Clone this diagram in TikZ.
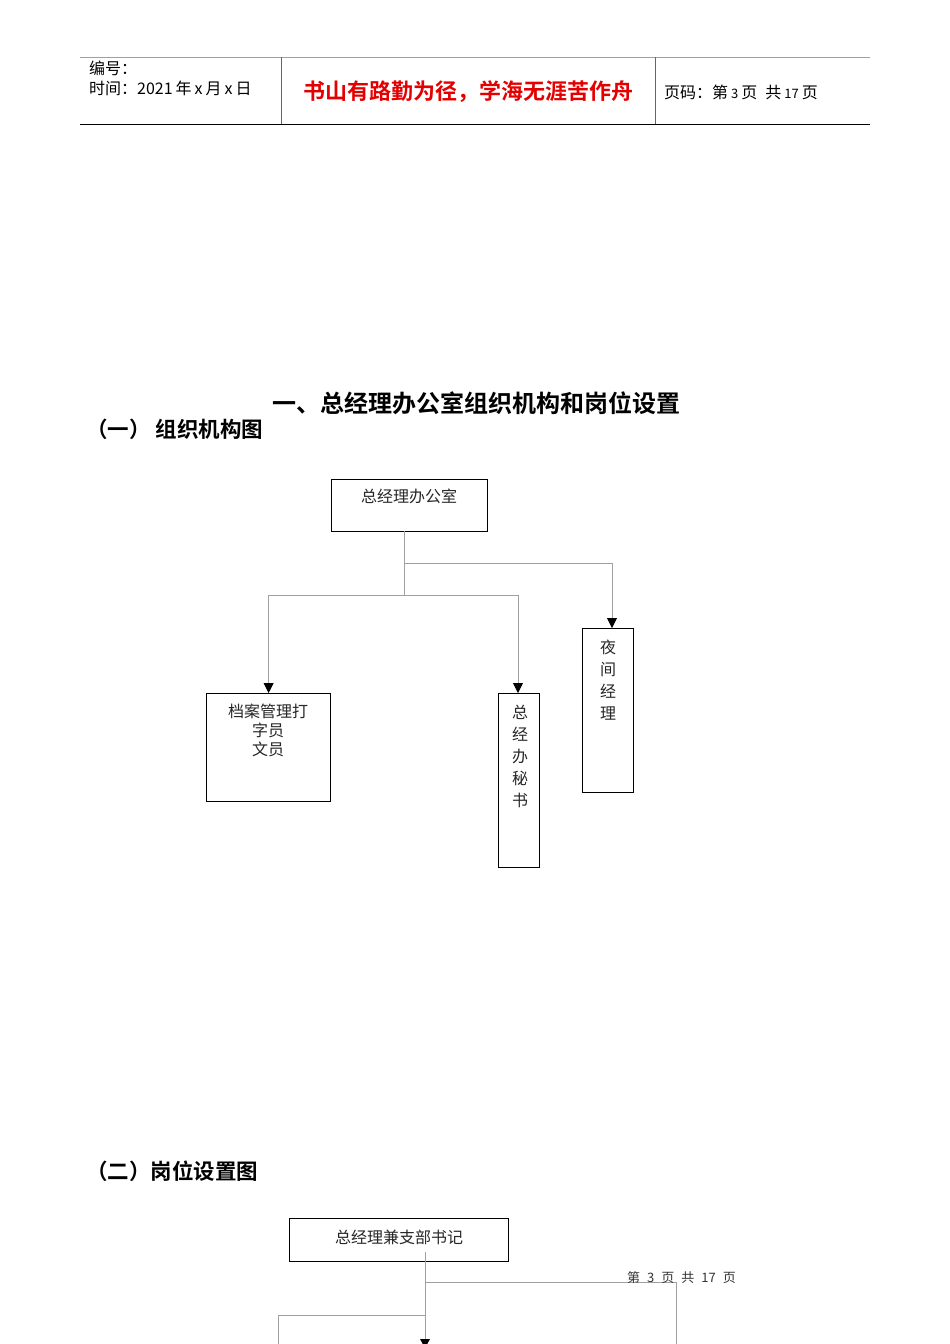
\documentclass[tikz,border=0pt]{standalone}
\usepackage{fontspec}
\setmainfont{Liberation Sans}
\newfontfamily\cjk[BoldFont={Noto Sans CJK SC Bold}]{Noto Sans CJK SC}
\usetikzlibrary{arrows.meta}
\definecolor{redtxt}{RGB}{228,0,0}
\definecolor{linegray}{RGB}{160,160,160}
\tikzset{
  box/.style={draw=black, line width=1.2pt, rectangle, anchor=north west, inner sep=0pt},
  boxtext/.style={font=\cjk\fontsize{16}{22}\selectfont, align=center, inner sep=0pt, text=black!85},
  conn/.style={draw=linegray, line width=0.8pt},
  arr/.style={-{Triangle[width=10pt,length=10pt,color=black]}},
  hdr/.style={font=\cjk\fontsize{16}{18}\selectfont, inner sep=0pt, anchor=west},
  heading/.style={font=\cjk\bfseries\fontsize{22}{26}\selectfont, inner sep=0pt},
}
\begin{document}
\begin{tikzpicture}[x=1pt,y=-1pt]
\useasboundingbox (0,0) rectangle (950,1344);
% header
\draw[linegray, line width=0.9pt] (80,57) -- (870,57);
\draw[black, line width=1pt] (80,124) -- (870,124);
\draw[black!60, line width=0.9pt] (281,57) -- (281,124);
\draw[black!60, line width=0.9pt] (655,57) -- (655,124);
\node[hdr] (h1) at (89,68) {编号：};
\node[hdr] (h2) at (89,88) {时间：2021\hspace{3pt}年\hspace{3pt}x\hspace{3pt}月\hspace{3pt}x\hspace{3pt}日};
\node[font=\cjk\bfseries\fontsize{22}{24}\selectfont, text=redtxt, inner sep=0pt] (h3) at (468,92) {书山有路勤为径，学海无涯苦作舟};
\node[hdr] (h4) at (664,92) {页码：第\hspace{3pt}{\fontsize{13}{14}\selectfont 3}\hspace{3pt}页\hspace{8pt}共\hspace{3pt}{\fontsize{13}{14}\selectfont 17}\hspace{3pt}页};
% titles
\node[heading, font=\cjk\bfseries\fontsize{24}{26}\selectfont] (t1) at (476,403) {一、总经理办公室组织机构和岗位设置};
\node[heading, anchor=west, font=\cjk\bfseries\fontsize{21.5}{26}\selectfont] (t2) at (86,429) {（一）\ 组织机构图};
% org chart
\node[box, minimum width=156pt, minimum height=52pt] (b1) at (331,479) {};
\node[boxtext] (b1t) at (409,496) {总经理办公室};
\node[box, minimum width=124pt, minimum height=108pt] (b2) at (206,693) {};
\node[boxtext, anchor=north] (b2t) at (268,704) {档案管理打\\[-3pt]字员\\[-3pt]文员};
\node[box, minimum width=41pt, minimum height=174pt] (b3) at (498,693) {};
\node[boxtext, anchor=north] (b3t) at (520,705) {总\\经\\办\\秘\\书};
\node[box, minimum width=51pt, minimum height=164pt] (b4) at (582,628) {};
\node[boxtext, anchor=north] (b4t) at (608,640) {夜\\间\\经\\理};
\coordinate (s1) at (404,531);
\coordinate (j1) at (404,563);
\coordinate (j2) at (404,595);
\coordinate (e4) at (612,628);
\coordinate (e3) at (518,693);
\draw[conn] (s1) -- (j2);
\draw[conn, arr] (j1) -| (e4);
\draw[conn, arr] (j2) -| (b2.north);
\draw[conn, arr] (j2) -| (e3);
% section 2
\node[heading, anchor=west, font=\cjk\bfseries\fontsize{21.5}{26}\selectfont] (t3) at (86,1171) {（二）岗位设置图};
\node[box, minimum width=219pt, minimum height=43pt] (c1) at (289,1218) {};
\node[boxtext] (c1t) at (399,1237) {总经理兼支部书记};
\coordinate (cs) at (425,1252);
\coordinate (k1) at (425,1282);
\coordinate (k2) at (425,1315);
\coordinate (ce) at (425,1345);
\coordinate (cl) at (278,1350);
\coordinate (cr) at (676,1350);
\draw[conn] (cs) -- (ce);
\fill[black] (420,1339) -- (430,1339) -- (425,1348) -- cycle;
\draw[conn] (k1) -| (cr);
\draw[conn] (k2) -| (cl);
\node[font=\cjk\fontsize{13}{14}\selectfont, inner sep=0pt, anchor=west, text=black!80] (ft) at (627,1278) {第\hspace{7pt}3\hspace{7pt}页\hspace{7pt}共\hspace{7pt}17\hspace{7pt}页};
\end{tikzpicture}
\end{document}
